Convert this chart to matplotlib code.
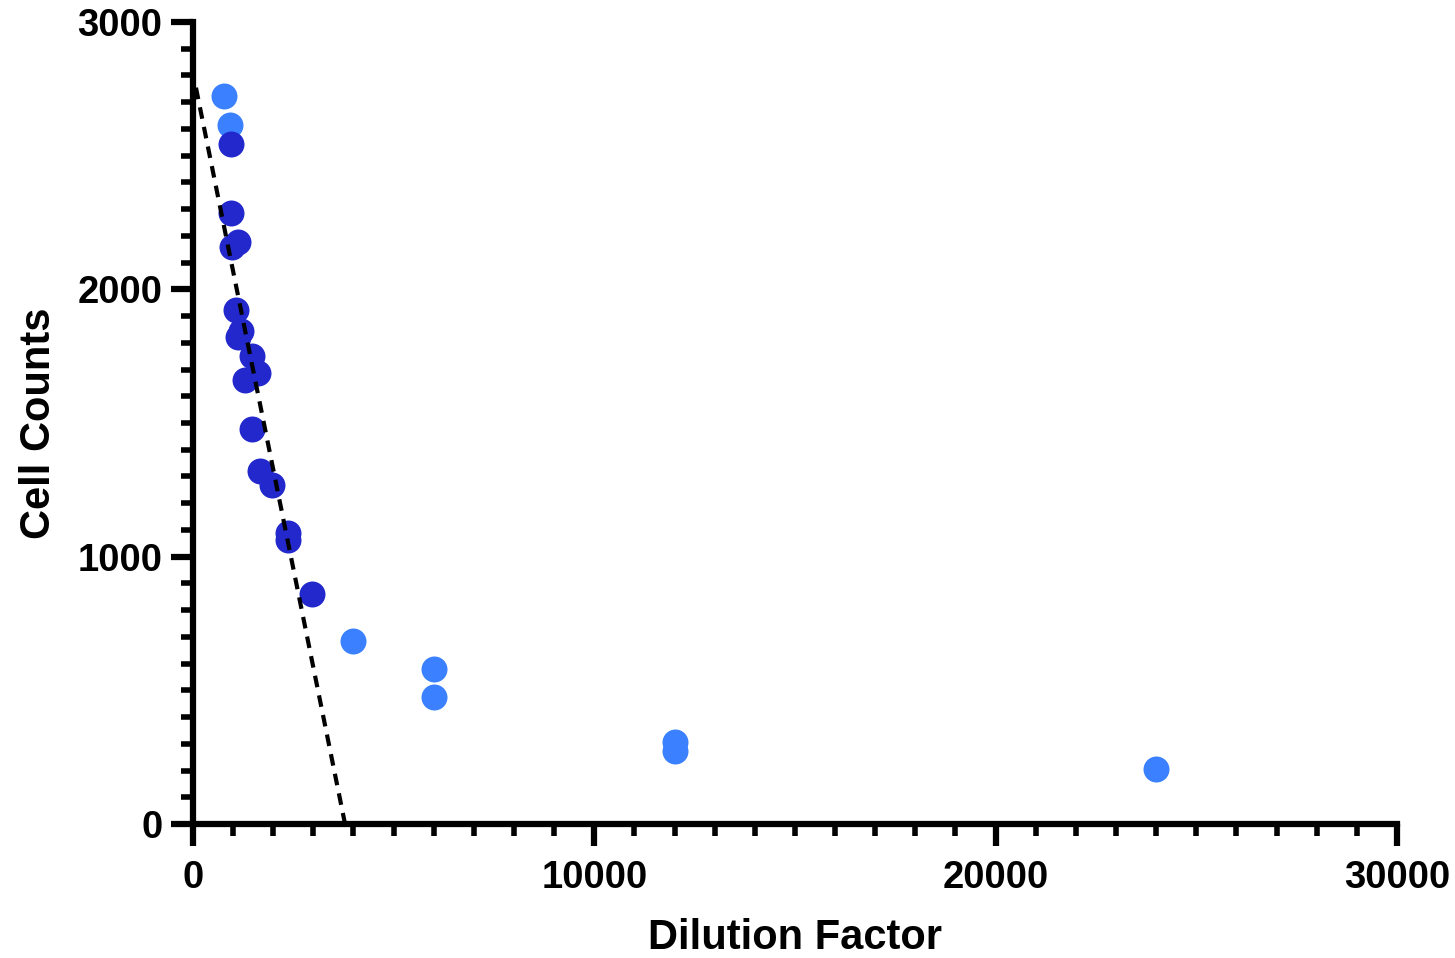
import matplotlib
matplotlib.use("Agg")
import matplotlib.pyplot as plt
from matplotlib.ticker import MultipleLocator

# Data
light_x = [770, 920, 4000, 6000, 6000, 12000, 12000, 24000]
light_y = [2723, 2615, 685, 580, 475, 307, 273, 206]

dark_x = [950, 950, 1120, 970, 1070, 1190, 1130, 1470, 1620, 1300, 1470, 1670, 1970, 2370, 2370, 2970]
dark_y = [2544, 2286, 2177, 2159, 1923, 1845, 1822, 1751, 1687, 1661, 1478, 1321, 1268, 1090, 1062, 860]

fit_intercept = 2810
fit_slope = -0.7414
fit_x = [75, 3790]

x_ticks = [0, 10000, 20000, 30000]
y_ticks = [0, 1000, 2000, 3000]

light_color = "#3A80FF"
dark_color = "#2228CC"

plt.rcParams['font.family'] = ['Liberation Sans', 'DejaVu Sans']
plt.rcParams['font.weight'] = 'bold'

fig = plt.figure(figsize=(14.55, 9.58), dpi=100)
ax = fig.add_axes([0.1326, 0.1399, 0.9601 - 0.1326, 0.977 - 0.1399])

ax.scatter(light_x, light_y, s=350, color=light_color, linewidths=0, zorder=3, clip_on=False)
ax.scatter(dark_x, dark_y, s=350, color=dark_color, linewidths=0, zorder=4, clip_on=False)

fy = [fit_intercept + fit_slope * x for x in fit_x]
ax.plot(fit_x, fy, linestyle=(0, (2.8, 2.0)), color='black', linewidth=3.0, zorder=5)

ax.set_xlim(0, 30000)
ax.set_ylim(0, 3000)
ax.set_xticks(x_ticks)
ax.set_yticks(y_ticks)
ax.xaxis.set_minor_locator(MultipleLocator(1000))
ax.yaxis.set_minor_locator(MultipleLocator(100))

for s in ['top', 'right']:
    ax.spines[s].set_visible(False)
for s in ['left', 'bottom']:
    ax.spines[s].set_linewidth(4.5)

ax.tick_params(which='major', direction='out', length=16, width=4.5, labelsize=27.5, pad=6)
ax.tick_params(axis='x', which='major', pad=10)
ax.tick_params(which='minor', direction='out', length=8.5, width=4.0)
for lab in ax.get_xticklabels() + ax.get_yticklabels():
    lab.set_fontweight('bold')

ax.set_xlabel('Dilution Factor', fontsize=30, fontweight='bold', labelpad=16)
ax.set_ylabel('Cell Counts', fontsize=30, fontweight='bold', labelpad=13)

fig.savefig('out.png', dpi=100)
